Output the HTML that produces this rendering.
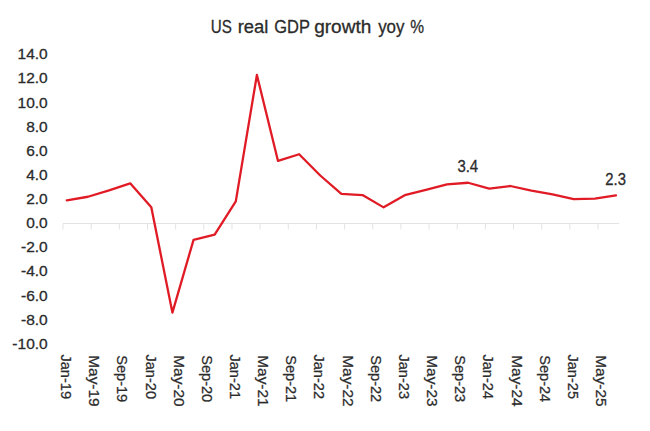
<!DOCTYPE html>
<html><head><meta charset="utf-8"><style>
html,body{margin:0;padding:0;background:#fff;}
body{width:650px;height:431px;overflow:hidden;}
svg{display:block;font-family:"Liberation Sans", sans-serif;}
</style></head><body>
<svg width="650" height="431" viewBox="0 0 650 431">
<rect width="650" height="431" fill="#fff"/>
<g font-size="18.8" fill="#2b2b2b" stroke="#2b2b2b" stroke-width="0.3"><text x="210.73" y="32.9" textLength="21.10" lengthAdjust="spacingAndGlyphs">US</text><text x="237.72" y="32.9" textLength="30.65" lengthAdjust="spacingAndGlyphs">real</text><text x="274.26" y="32.9" textLength="35.60" lengthAdjust="spacingAndGlyphs">GDP</text><text x="314.15" y="32.9" textLength="57.14" lengthAdjust="spacingAndGlyphs">growth</text><text x="378.16" y="32.9" textLength="26.33" lengthAdjust="spacingAndGlyphs">yoy</text><text x="410.35" y="32.9" textLength="13.80" lengthAdjust="spacingAndGlyphs">%</text></g>
<path d="M63.0 223.5 H619.16 M63.00 223.5 V229.5 M91.16 223.5 V229.5 M119.32 223.5 V229.5 M147.48 223.5 V229.5 M175.64 223.5 V229.5 M203.80 223.5 V229.5 M231.96 223.5 V229.5 M260.12 223.5 V229.5 M288.28 223.5 V229.5 M316.44 223.5 V229.5 M344.60 223.5 V229.5 M372.76 223.5 V229.5 M400.92 223.5 V229.5 M429.08 223.5 V229.5 M457.24 223.5 V229.5 M485.40 223.5 V229.5 M513.56 223.5 V229.5 M541.72 223.5 V229.5 M569.88 223.5 V229.5 M598.04 223.5 V229.5" stroke="#e3e3e3" stroke-width="1" fill="none"/>
<g font-size="15.0" fill="#2b2b2b" stroke="#2b2b2b" stroke-width="0.3">
<text x="47.7" y="53.72" text-anchor="end" dominant-baseline="central" textLength="30.14" lengthAdjust="spacingAndGlyphs">14.0</text>
<text x="47.7" y="77.86" text-anchor="end" dominant-baseline="central" textLength="30.14" lengthAdjust="spacingAndGlyphs">12.0</text>
<text x="47.7" y="102.00" text-anchor="end" dominant-baseline="central" textLength="30.14" lengthAdjust="spacingAndGlyphs">10.0</text>
<text x="47.7" y="126.14" text-anchor="end" dominant-baseline="central" textLength="21.52" lengthAdjust="spacingAndGlyphs">8.0</text>
<text x="47.7" y="150.28" text-anchor="end" dominant-baseline="central" textLength="21.52" lengthAdjust="spacingAndGlyphs">6.0</text>
<text x="47.7" y="174.42" text-anchor="end" dominant-baseline="central" textLength="21.52" lengthAdjust="spacingAndGlyphs">4.0</text>
<text x="47.7" y="198.56" text-anchor="end" dominant-baseline="central" textLength="21.52" lengthAdjust="spacingAndGlyphs">2.0</text>
<text x="47.7" y="222.70" text-anchor="end" dominant-baseline="central" textLength="21.52" lengthAdjust="spacingAndGlyphs">0.0</text>
<text x="47.7" y="246.84" text-anchor="end" dominant-baseline="central" textLength="26.72" lengthAdjust="spacingAndGlyphs">-2.0</text>
<text x="47.7" y="270.98" text-anchor="end" dominant-baseline="central" textLength="26.72" lengthAdjust="spacingAndGlyphs">-4.0</text>
<text x="47.7" y="295.12" text-anchor="end" dominant-baseline="central" textLength="26.72" lengthAdjust="spacingAndGlyphs">-6.0</text>
<text x="47.7" y="319.26" text-anchor="end" dominant-baseline="central" textLength="26.72" lengthAdjust="spacingAndGlyphs">-8.0</text>
<text x="47.7" y="343.40" text-anchor="end" dominant-baseline="central" textLength="35.34" lengthAdjust="spacingAndGlyphs">-10.0</text>
</g>
<g font-size="15.3" fill="#2b2b2b" stroke="#2b2b2b" stroke-width="0.25">
<text transform="translate(66.52,354.5) rotate(90)" dominant-baseline="central" textLength="44.5" lengthAdjust="spacingAndGlyphs">Jan-19</text>
<text transform="translate(94.68,355.2) rotate(90)" dominant-baseline="central" textLength="51.5" lengthAdjust="spacingAndGlyphs">May-19</text>
<text transform="translate(122.84,355.2) rotate(90)" dominant-baseline="central" textLength="47.0" lengthAdjust="spacingAndGlyphs">Sep-19</text>
<text transform="translate(151.00,354.5) rotate(90)" dominant-baseline="central" textLength="44.5" lengthAdjust="spacingAndGlyphs">Jan-20</text>
<text transform="translate(179.16,355.2) rotate(90)" dominant-baseline="central" textLength="51.5" lengthAdjust="spacingAndGlyphs">May-20</text>
<text transform="translate(207.32,355.2) rotate(90)" dominant-baseline="central" textLength="47.0" lengthAdjust="spacingAndGlyphs">Sep-20</text>
<text transform="translate(235.48,354.5) rotate(90)" dominant-baseline="central" textLength="44.5" lengthAdjust="spacingAndGlyphs">Jan-21</text>
<text transform="translate(263.64,355.2) rotate(90)" dominant-baseline="central" textLength="51.5" lengthAdjust="spacingAndGlyphs">May-21</text>
<text transform="translate(291.80,355.2) rotate(90)" dominant-baseline="central" textLength="47.0" lengthAdjust="spacingAndGlyphs">Sep-21</text>
<text transform="translate(319.96,354.5) rotate(90)" dominant-baseline="central" textLength="44.5" lengthAdjust="spacingAndGlyphs">Jan-22</text>
<text transform="translate(348.12,355.2) rotate(90)" dominant-baseline="central" textLength="51.5" lengthAdjust="spacingAndGlyphs">May-22</text>
<text transform="translate(376.28,355.2) rotate(90)" dominant-baseline="central" textLength="47.0" lengthAdjust="spacingAndGlyphs">Sep-22</text>
<text transform="translate(404.44,354.5) rotate(90)" dominant-baseline="central" textLength="44.5" lengthAdjust="spacingAndGlyphs">Jan-23</text>
<text transform="translate(432.60,355.2) rotate(90)" dominant-baseline="central" textLength="51.5" lengthAdjust="spacingAndGlyphs">May-23</text>
<text transform="translate(460.76,355.2) rotate(90)" dominant-baseline="central" textLength="47.0" lengthAdjust="spacingAndGlyphs">Sep-23</text>
<text transform="translate(488.92,354.5) rotate(90)" dominant-baseline="central" textLength="44.5" lengthAdjust="spacingAndGlyphs">Jan-24</text>
<text transform="translate(517.08,355.2) rotate(90)" dominant-baseline="central" textLength="51.5" lengthAdjust="spacingAndGlyphs">May-24</text>
<text transform="translate(545.24,355.2) rotate(90)" dominant-baseline="central" textLength="47.0" lengthAdjust="spacingAndGlyphs">Sep-24</text>
<text transform="translate(573.40,354.5) rotate(90)" dominant-baseline="central" textLength="44.5" lengthAdjust="spacingAndGlyphs">Jan-25</text>
<text transform="translate(601.56,355.2) rotate(90)" dominant-baseline="central" textLength="51.5" lengthAdjust="spacingAndGlyphs">May-25</text>
</g>
<polyline points="66.82,200.31 87.94,196.75 109.06,190.35 130.18,183.35 151.30,207.25 172.42,312.62 193.54,239.84 214.66,234.53 235.78,201.33 256.90,74.96 278.02,160.90 299.14,154.26 320.26,175.50 341.38,193.85 362.50,195.06 383.62,207.37 404.74,195.18 425.86,189.87 446.98,184.43 468.10,182.74 489.22,188.66 510.34,186.00 531.46,190.59 552.58,194.45 573.70,199.04 594.82,198.56 615.94,195.30" fill="none" stroke="#e01b25" stroke-width="2.3" stroke-linejoin="round" stroke-linecap="round"/>
<g font-size="15.6" fill="#2b2b2b" stroke="#2b2b2b" stroke-width="0.3" text-anchor="middle">
<text x="467.80" y="172.4" textLength="20.8" lengthAdjust="spacingAndGlyphs">3.4</text>
<text x="615.64" y="185.1" textLength="20.6" lengthAdjust="spacingAndGlyphs">2.3</text>
</g>
</svg>
</body></html>
